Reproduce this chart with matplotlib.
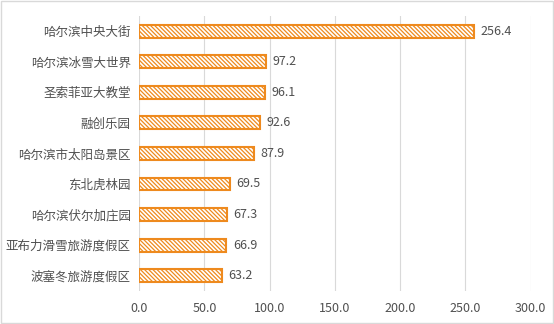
import matplotlib
matplotlib.use('Agg')
from matplotlib import pyplot as plt
from matplotlib.patches import Rectangle

plt.rcParams['font.family'] = ['Noto Sans CJK SC', 'DejaVu Sans']
plt.rcParams['hatch.linewidth'] = 0.9

# 数据（从上到下）
places = ['哈尔滨中央大街', '哈尔滨冰雪大世界', '圣索菲亚大教堂', '融创乐园', '哈尔滨市太阳岛景区',
          '东北虎林园', '哈尔滨伏尔加庄园', '亚布力滑雪旅游度假区', '波塞冬旅游度假区']
values = [256.4, 97.2, 96.1, 92.6, 87.9, 69.5, 67.3, 66.9, 63.2]
xticks = [0, 50, 100, 150, 200, 250, 300]

orange = '#EE8A1E'
text_color = '#505050'

fig = plt.figure(figsize=(5.54, 3.24), dpi=100)
ax = fig.add_axes([0.251, 0.102, 0.707, 0.849])

pos = list(range(len(places)))
ax.barh(pos, values, height=0.42, color='white', edgecolor=orange,
        linewidth=1.5, hatch='\\' * 8, zorder=3)

for p, v in zip(pos, values):
    ax.text(v + 5, p, f'{v:.1f}', va='center', ha='left', fontsize=9, color=text_color)

ax.set_ylim(len(places) - 0.5, -0.5)
ax.set_yticks(pos)
ax.set_yticklabels(places, fontsize=9, color=text_color)
ax.set_xlim(0, 300)
ax.set_xticks(xticks)
ax.set_xticklabels([f'{t:.1f}' for t in xticks], fontsize=9, color=text_color)
ax.tick_params(length=0, pad=6)
ax.tick_params(axis='x', pad=8)
ax.grid(axis='x', color='#D9D9D9', linewidth=0.8, zorder=0)
for s in ax.spines.values():
    s.set_visible(False)

# 外框
fig.patches.append(Rectangle((0.002, 0.003), 0.996, 0.994, transform=fig.transFigure,
                             fill=False, edgecolor='#D9D9D9', linewidth=1))

fig.savefig('out.png', dpi=100)
